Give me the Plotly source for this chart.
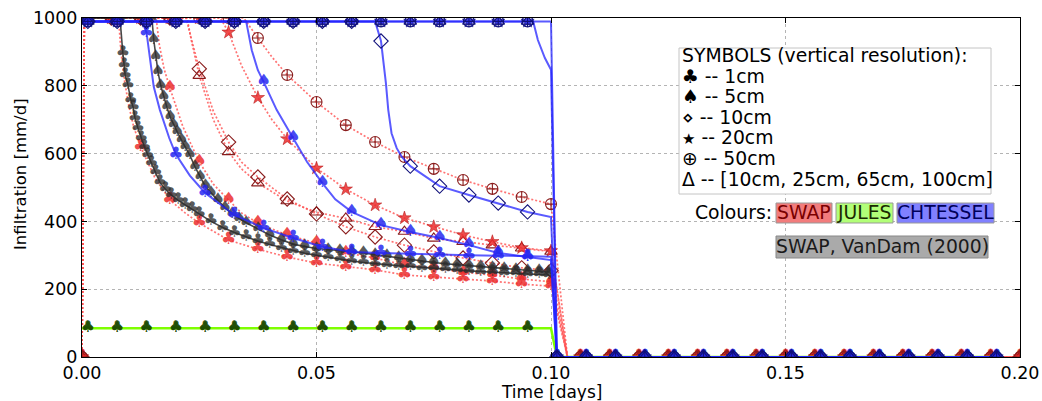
import plotly.graph_objects as go

# ---------------- marker time grids (days) ----------------
SWAP_T = [0.0, 0.00625, 0.0125, 0.01875, 0.025, 0.03125, 0.0375, 0.04375, 0.05, 0.05625,
          0.0625, 0.06875, 0.075, 0.08125, 0.0875, 0.09375, 0.1, 0.10625, 0.1125, 0.11875,
          0.125, 0.13125, 0.1375, 0.14375, 0.15, 0.15625, 0.1625, 0.16875, 0.175, 0.18125,
          0.1875, 0.19375, 0.2]
CHT_T = [0.00125, 0.0075, 0.01375, 0.02, 0.02625, 0.0325, 0.03875, 0.045, 0.05125, 0.0575,
         0.06375, 0.07, 0.07625, 0.0825, 0.08875, 0.095, 0.10125, 0.1075, 0.11375, 0.12,
         0.12625, 0.1325, 0.13875, 0.145, 0.15125, 0.1575, 0.16375, 0.17, 0.17625, 0.1825,
         0.18875, 0.195]

# ---------------- SWAP (values at SWAP_T) ----------------
swap_1cm = [0, 1000, 620, 463, 395, 345, 318, 295, 277, 266, 257, 242, 236, 232, 224, 215, 209,
            0, 0, 0, 0, 0, 0, 0, 0, 0, 0, 0, 0, 0, 0, 0, 0]
swap_5cm = [0, 1000, 1000, 793, 575, 463, 395, 360, 336, 307, 292, 271, 263, 250, 242, 230, 222,
            0, 0, 0, 0, 0, 0, 0, 0, 0, 0, 0, 0, 0, 0, 0, 0]
swap_10cm = [0, 1000, 1000, 1000, 850, 634, 531, 466, 422, 384, 354, 330, 310, 292, 277, 263, 255,
             0, 0, 0, 0, 0, 0, 0, 0, 0, 0, 0, 0, 0, 0, 0, 0]
swap_multi = [0, 1000, 1000, 1000, 830, 605, 513, 460, 427, 409, 384, 370, 350, 340, 330, 321, 311,
              0, 0, 0, 0, 0, 0, 0, 0, 0, 0, 0, 0, 0, 0, 0, 0]
swap_20cm = [0, 1000, 1000, 1000, 1000, 958, 765, 643, 557, 495, 448, 410, 384, 360, 340, 322, 313,
             0, 0, 0, 0, 0, 0, 0, 0, 0, 0, 0, 0, 0, 0, 0, 0]
swap_50cm = [0, 1000, 1000, 1000, 1000, 1000, 941, 832, 752, 684, 634, 590, 555, 522, 496, 472, 451,
             0, 0, 0, 0, 0, 0, 0, 0, 0, 0, 0, 0, 0, 0, 0, 0]
# extra line points between markers
swap_1cm_xt = [0.0005, 0.0078, 0.0083, 0.009, 0.01, 0.011, 0.0155, 0.022, 0.1035]
swap_1cm_xv = [1000, 1000, 900, 820, 740, 680, 530, 425, 0]
swap_5cm_xt = [0.0005, 0.0158, 0.0165, 0.0175, 0.0215, 0.028, 0.034, 0.1035]
swap_5cm_xv = [1000, 1000, 920, 850, 680, 510, 425, 0]
swap_10cm_xt = [0.0005, 0.0222, 0.0232, 0.028, 0.034, 0.1035]
swap_10cm_xv = [1000, 1000, 945, 725, 575, 0]
swap_multi_xt = [0.0005, 0.0224, 0.0233, 0.028, 0.034, 0.1035]
swap_multi_xv = [1000, 1000, 935, 700, 555, 0]
swap_20cm_xt = [0.0005, 0.0295, 0.034, 0.0405, 0.1035]
swap_20cm_xv = [1000, 1000, 860, 700, 0]
swap_50cm_xt = [0.0005, 0.0345, 0.0405, 0.047, 0.1035]
swap_50cm_xv = [1000, 1000, 885, 790, 0]

# ---------------- CHTESSEL (values at CHT_T) ----------------
cht_1cm = [990, 990, 958, 598, 484, 419, 380, 351, 325, 310, 307, 304, 302, 300, 299, 297,
           0, 0, 0, 0, 0, 0, 0, 0, 0, 0, 0, 0, 0, 0, 0, 0]
cht_5cm = [990, 990, 990, 990, 990, 990, 811, 646, 513, 428, 389, 369, 351, 330, 307, 295,
           0, 0, 0, 0, 0, 0, 0, 0, 0, 0, 0, 0, 0, 0, 0, 0]
cht_10cm = [990, 990, 990, 990, 990, 990, 990, 990, 990, 990, 932, 563, 504, 478, 454, 428,
            0, 0, 0, 0, 0, 0, 0, 0, 0, 0, 0, 0, 0, 0, 0, 0]
cht_20cm = [990, 990, 990, 990, 990, 990, 990, 990, 990, 990, 990, 990, 990, 990, 990, 990,
            0, 0, 0, 0, 0, 0, 0, 0, 0, 0, 0, 0, 0, 0, 0, 0]
cht_50cm = [990, 990, 990, 990, 990, 990, 990, 990, 990, 990, 990, 990, 990, 990, 990, 990,
            0, 0, 0, 0, 0, 0, 0, 0, 0, 0, 0, 0, 0, 0, 0, 0]
cht_1cm_xt = [0.0, 0.0128, 0.0145, 0.0153, 0.0166, 0.0186, 0.023, 0.1]
cht_1cm_xv = [990, 990, 876, 797, 729, 646, 535, 296]
cht_5cm_xt = [0.0, 0.035, 0.0362, 0.0375, 0.0415, 0.048, 0.054, 0.1]
cht_5cm_xv = [990, 990, 905, 846, 729, 575, 465, 286]
cht_10cm_xt = [0.0, 0.0625, 0.0648, 0.0653, 0.066, 0.0671, 0.0682, 0.1]
cht_10cm_xv = [990, 990, 808, 729, 660, 616, 590, 413]
cht_20cm_xt = [0.0, 0.0962, 0.0972, 0.0987, 0.1]
cht_20cm_xv = [990, 990, 935, 882, 847]
cht_50cm_xt = [0.0, 0.1]
cht_50cm_xv = [990, 990]

# ---------------- JULES (values at CHT_T) ----------------
jules = [85, 85, 85, 85, 85, 85, 85, 85, 85, 85, 85, 85, 85, 85, 85, 85,
         0, 0, 0, 0, 0, 0, 0, 0, 0, 0, 0, 0, 0, 0, 0, 0]
jules_xt = [0.0, 0.1]
jules_xv = [85, 85]

# ---------------- SWAP, VanDam (2000) ----------------
vd1_t = [0.0, 0.0081, 0.0087, 0.009, 0.0092, 0.0098, 0.0104, 0.0109, 0.0113, 0.0119, 0.0126,
         0.0133, 0.014, 0.0148, 0.0157, 0.0166, 0.0178, 0.019, 0.0205, 0.022, 0.0235, 0.025,
         0.0275, 0.03, 0.0325, 0.035, 0.0375, 0.04, 0.0425, 0.045, 0.0475, 0.05, 0.0525, 0.055,
         0.0575, 0.06, 0.0625, 0.065, 0.0675, 0.07, 0.0725, 0.075, 0.0775, 0.08, 0.0825, 0.085,
         0.0875, 0.09, 0.0925, 0.095, 0.0975, 0.0995]
vd1_v = [1000, 1000, 897, 861, 832, 802, 758, 737, 705, 676, 646,
         620, 597, 572, 545, 515, 495, 478, 462, 448, 436, 422,
         400, 382, 367, 354, 342, 332, 323, 314, 306, 300, 294, 288,
         283, 279, 275, 272, 269, 267, 264, 262, 259, 257, 254, 252,
         250, 248, 247, 245, 244, 242]
vd2_t = [0.0, 0.0149, 0.0153, 0.0157, 0.0162, 0.0168, 0.0174, 0.0181, 0.0188, 0.0195, 0.0203,
         0.0212, 0.022, 0.023, 0.0241, 0.0252, 0.0263, 0.0275, 0.029, 0.0305, 0.032, 0.0335,
         0.035, 0.0375, 0.04, 0.0425, 0.045, 0.0475, 0.05, 0.0525, 0.055, 0.0575, 0.06, 0.0625,
         0.065, 0.0675, 0.07, 0.0725, 0.075, 0.0775, 0.08, 0.0825, 0.085, 0.0875, 0.09, 0.0925,
         0.095, 0.0975, 0.0995]
vd2_v = [1000, 1000, 935, 885, 841, 800, 767, 737, 708, 685, 664,
         640, 620, 595, 561, 530, 503, 484, 462, 440, 422, 408,
         396, 378, 360, 346, 333, 326, 320, 317, 314, 311, 307, 302,
         297, 292, 287, 283, 279, 275, 272, 269, 266, 263, 260, 258,
         255, 253, 251]

# ---------------- tick labels ----------------
X_TICKS = [0.0, 0.05, 0.1, 0.15, 0.2]
X_TICKTEXT = ["0.00", "0.05", "0.10", "0.15", "0.20"]
Y_TICKS = [0, 200, 400, 600, 800, 1000]

FONT = "DejaVu Sans"


def merged(grid, vals, xt, xv):
    pts = sorted(zip(list(grid) + list(xt), list(vals) + list(xv)), key=lambda p: p[0])
    return [p[0] for p in pts], [p[1] for p in pts]


fig = go.Figure()

RED_LINE = dict(color="rgba(255,80,80,0.8)", width=1.7, dash="2px,2px")
RED_FILL = "rgba(235,45,45,0.85)"
DARK_RED = "#8a1c1c"

swap_defs = [
    (swap_1cm, swap_1cm_xt, swap_1cm_xv, "text", "♣"),
    (swap_5cm, swap_5cm_xt, swap_5cm_xv, "text", "♠"),
    (swap_10cm, swap_10cm_xt, swap_10cm_xv, "marker", "diamond-open"),
    (swap_multi, swap_multi_xt, swap_multi_xv, "marker", "triangle-up-open"),
    (swap_20cm, swap_20cm_xt, swap_20cm_xv, "marker", "star"),
    (swap_50cm, swap_50cm_xt, swap_50cm_xv, "marker", "circle-cross-open"),
]
for vals, xt, xv, kind, sym in swap_defs:
    t, v = merged(SWAP_T, vals, xt, xv)
    fig.add_trace(go.Scatter(x=t, y=v, mode="lines", line=RED_LINE, hoverinfo="skip"))
for vals, xt, xv, kind, sym in swap_defs:
    if kind == "text":
        fig.add_trace(go.Scatter(x=SWAP_T, y=vals, mode="text", text=sym,
                                 textfont=dict(size=17, color=RED_FILL, family=FONT)))
    elif sym == "star":
        fig.add_trace(go.Scatter(x=SWAP_T, y=vals, mode="markers",
                                 marker=dict(symbol=sym, size=10, color=RED_FILL,
                                             line=dict(color="#b01010", width=0.5))))
    else:
        fig.add_trace(go.Scatter(x=SWAP_T, y=vals, mode="markers",
                                 marker=dict(symbol=sym, size=11, color=DARK_RED,
                                             line=dict(color=DARK_RED, width=1.1))))

# JULES
t, v = merged(CHT_T, jules, jules_xt, jules_xv)
fig.add_trace(go.Scatter(x=t, y=v, mode="lines", line=dict(color="#7fff00", width=2.5)))
for sym in ["♠", "♣"]:
    fig.add_trace(go.Scatter(x=CHT_T, y=jules, mode="text", text=sym,
                             textfont=dict(size=16, color="rgba(28,75,0,0.85)", family=FONT)))

# VanDam
VD_LINE = dict(color="rgba(40,40,40,0.85)", width=1.6)
fig.add_trace(go.Scatter(x=vd1_t, y=vd1_v, mode="lines+text", line=VD_LINE, text="♣",
                         textfont=dict(size=16, color="rgba(45,45,45,0.8)", family=FONT)))
fig.add_trace(go.Scatter(x=vd2_t, y=vd2_v, mode="lines+text", line=VD_LINE, text="♠",
                         textfont=dict(size=16, color="rgba(45,45,45,0.8)", family=FONT)))

# CHTESSEL
BLUE_LINE = dict(color="rgba(35,35,255,0.75)", width=2)
BLUE_FILL = "rgba(40,40,240,0.85)"
NAVY = "#10107a"
cht_defs = [
    (cht_1cm, cht_1cm_xt, cht_1cm_xv, "text", "♣"),
    (cht_5cm, cht_5cm_xt, cht_5cm_xv, "text", "♠"),
    (cht_10cm, cht_10cm_xt, cht_10cm_xv, "marker", "diamond-open"),
    (cht_20cm, cht_20cm_xt, cht_20cm_xv, "marker", "star"),
    (cht_50cm, cht_50cm_xt, cht_50cm_xv, "marker", "circle-cross-open"),
]
for vals, xt, xv, kind, sym in cht_defs:
    t, v = merged(CHT_T, vals, xt, xv)
    fig.add_trace(go.Scatter(x=t, y=v, mode="lines", line=BLUE_LINE))
for vals, xt, xv, kind, sym in cht_defs:
    if kind == "text":
        fig.add_trace(go.Scatter(x=CHT_T, y=vals, mode="text", text=sym,
                                 textfont=dict(size=17, color=BLUE_FILL, family=FONT)))
    elif sym == "star":
        fig.add_trace(go.Scatter(x=CHT_T, y=vals, mode="markers",
                                 marker=dict(symbol=sym, size=10, color=BLUE_FILL,
                                             line=dict(color=NAVY, width=0.5))))
    else:
        fig.add_trace(go.Scatter(x=CHT_T, y=vals, mode="markers",
                                 marker=dict(symbol=sym, size=11, color=NAVY,
                                             line=dict(color=NAVY, width=1.1))))
# triangles for CHTESSEL multilayer (same as top curve)
fig.add_trace(go.Scatter(x=CHT_T, y=cht_50cm, mode="markers",
                         marker=dict(symbol="triangle-up-open", size=11, color=NAVY,
                                     line=dict(color=NAVY, width=1.1))))

# ---------------- layout ----------------
L, R, T, B = 82, 1020, 18, 357


def px(x):
    return (x - L) / (R - L)


def py(y):
    return (B - y) / (B - T)


axis_common = dict(showgrid=True, gridcolor="#b4b4b4", griddash="dot", gridwidth=1,
                   showline=True, linecolor="black", linewidth=1, mirror="ticks",
                   ticks="inside", ticklen=5, tickcolor="black", zeroline=False,
                   automargin=False,
                   tickfont=dict(size=17.5, family=FONT, color="black"))

fig.update_layout(
    width=1042, height=401,
    margin=dict(l=L, r=1042 - R, t=T, b=401 - B, pad=0, autoexpand=False),
    paper_bgcolor="white", plot_bgcolor="white",
    showlegend=False,
    font=dict(family=FONT, size=17, color="black"),
    xaxis=dict(range=[0, 0.2], tickvals=X_TICKS, ticktext=X_TICKTEXT, **axis_common),
    yaxis=dict(range=[0, 1000], tickvals=Y_TICKS, **axis_common),
)

shapes = [
    dict(type="rect", xref="paper", yref="paper", x0=px(679), x1=px(991), y0=py(194), y1=py(48),
         line=dict(color="#c4c4c4", width=1), fillcolor="white", layer="above"),
    dict(type="rect", xref="paper", yref="paper", x0=px(776), x1=px(832), y0=py(223), y1=py(203),
         line=dict(color="#999999", width=1), fillcolor="#f27c7c", layer="above"),
    dict(type="rect", xref="paper", yref="paper", x0=px(836), x1=px(893), y0=py(223), y1=py(203),
         line=dict(color="#999999", width=1), fillcolor="#b2ff78", layer="above"),
    dict(type="rect", xref="paper", yref="paper", x0=px(897), x1=px(994), y0=py(223), y1=py(203),
         line=dict(color="#999999", width=1), fillcolor="#8080ff", layer="above"),
    dict(type="rect", xref="paper", yref="paper", x0=px(776), x1=px(988), y0=py(258), y1=py(236),
         line=dict(color="#888888", width=1), fillcolor="#aaaaaa", layer="above"),
]

LEG_SIZE = 18.8
legend_lines = [
    "SYMBOLS (vertical resolution):",
    "♣ -- 1cm",
    "♠ -- 5cm",
    "⋄ -- 10cm",
    "<span style='font-size:15px'>★</span> -- 20cm",
    "⊕ -- 50cm",
    "Δ -- [10cm, 25cm, 65cm, 100cm]",
]
annotations = []
for i, txt in enumerate(legend_lines):
    annotations.append(dict(xref="paper", yref="paper", x=px(680), y=py(55.5 + 20.6 * i),
                            xanchor="left", yanchor="middle", text=txt, showarrow=False,
                            font=dict(size=LEG_SIZE, family=FONT, color="black")))
annotations += [
    dict(xref="paper", yref="paper", x=px(774), y=py(212.5), xanchor="right", yanchor="middle",
         text="Colours:", showarrow=False, font=dict(size=LEG_SIZE, family=FONT, color="black")),
    dict(xref="paper", yref="paper", x=px(804), y=py(212.5), xanchor="center", yanchor="middle",
         text="SWAP", showarrow=False, font=dict(size=LEG_SIZE, family=FONT, color="#7a0000")),
    dict(xref="paper", yref="paper", x=px(864.5), y=py(212.5), xanchor="center", yanchor="middle",
         text="JULES", showarrow=False, font=dict(size=LEG_SIZE, family=FONT, color="#1a2a00")),
    dict(xref="paper", yref="paper", x=px(945.5), y=py(212.5), xanchor="center", yanchor="middle",
         text="CHTESSEL", showarrow=False, font=dict(size=LEG_SIZE, family=FONT, color="#00005a")),
    dict(xref="paper", yref="paper", x=px(882), y=py(246.5), xanchor="center", yanchor="middle",
         text="SWAP, VanDam (2000)", showarrow=False,
         font=dict(size=LEG_SIZE, family=FONT, color="#1a1a1a")),
    dict(xref="paper", yref="paper", x=0.5, y=py(392), xanchor="center", yanchor="middle",
         text="Time [days]", showarrow=False, font=dict(size=17, family=FONT, color="black")),
    dict(xref="paper", yref="paper", x=px(20), y=py(174), xanchor="center", yanchor="middle",
         text="Infiltration [mm/d]", textangle=-90, showarrow=False,
         font=dict(size=16.5, family=FONT, color="black")),
]
fig.update_layout(shapes=shapes, annotations=annotations)

fig.write_html("out.html")
